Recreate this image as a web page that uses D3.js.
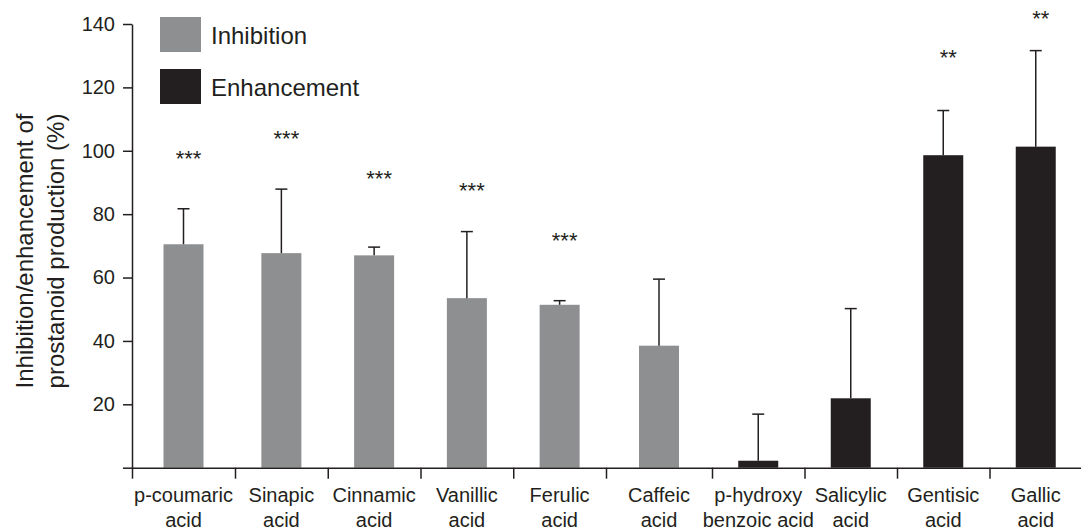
<!DOCTYPE html>
<html>
<head>
<meta charset="utf-8">
<script src="https://cdn.jsdelivr.net/npm/d3@7"></script>
<style>
  body { margin: 0; background: #fff; }
  text { font-family: "Liberation Sans", Arial, Helvetica, sans-serif; fill: #231f20; }
</style>
</head>
<body>
<div id="chart"></div>
<script>
// Data
const categories = [
  ["p-coumaric", "acid"], ["Sinapic", "acid"], ["Cinnamic", "acid"], ["Vanillic", "acid"],
  ["Ferulic", "acid"], ["Caffeic", "acid"], ["p-hydroxy", "benzoic acid"],
  ["Salicylic", "acid"], ["Gentisic", "acid"], ["Gallic", "acid"]
];
const effect = ["Inhibition", "Inhibition", "Inhibition", "Inhibition", "Inhibition", "Inhibition",
                "Enhancement", "Enhancement", "Enhancement", "Enhancement"];
const means = [70.5, 67.7, 67.0, 53.5, 51.4, 38.5, 2.2, 21.9, 98.6, 101.3];
const sds   = [11.2, 20.2, 2.6, 21.0, 1.3, 21.0, 14.7, 28.3, 14.1, 30.3];
const stars = ["***", "***", "***", "***", "***", "", "", "", "**", "**"];
const starLevel = [99, 105.3, 92.7, 88.9, 73.4, null, null, null, 131, 143.4];
const yTicks = [0, 20, 40, 60, 80, 100, 120, 140];
const legendItems = ["Inhibition", "Enhancement"];

// Global const
const W = 1081, H = 530;
const ink = "#231f20";
const color = d3.scaleOrdinal().domain(legendItems).range(["#8e8f91", "#231f20"]);

const svg = d3.select("#chart").append("svg")
  .attr("width", W).attr("height", H);

// y scale
const y = d3.scaleLinear().domain([0, 140]).range([467.7, 24]);

// slot scale: boundaries between categories (the original has a slightly wider slot mid-chart)
const slot = d3.scaleLinear().domain([0, 1, 5, 6, 10]).range([132, 235, 606, 712, 1082]);
const barW = 40;

// Bars
svg.selectAll("rect.bar")
  .data(means)
  .enter()
  .append("rect")
    .attr("class", "bar")
    .attr("x", (d, i) => slot(i + 0.5) - barW / 2)
    .attr("y", d => y(d))
    .attr("width", barW)
    .attr("height", d => y(0) - y(d))
    .style("fill", (d, i) => color(effect[i]));

// Error bars (upper only)
const err = svg.append("g").attr("stroke", ink).attr("stroke-width", 1.5);
means.forEach((m, i) => {
  const cx = slot(i + 0.5);
  err.append("line")
    .attr("x1", cx).attr("x2", cx)
    .attr("y1", y(m)).attr("y2", y(m + sds[i]));
  err.append("line")
    .attr("x1", cx - 6).attr("x2", cx + 6)
    .attr("y1", y(m + sds[i])).attr("y2", y(m + sds[i]));
});

// Significance stars
const starData = stars.map((s, i) => ({ s: s, i: i, v: starLevel[i] })).filter(d => d.s !== "");
svg.selectAll("text.star")
  .data(starData)
  .enter()
  .append("text")
    .attr("class", "star")
    .attr("x", d => slot(d.i + 0.5) + 5)
    .attr("y", d => y(d.v) + 12.5)
    .attr("text-anchor", "middle")
    .attr("font-size", "22px")
    .text(d => d.s);

// Y axis
const yAxis = svg.append("g")
  .attr("transform", "translate(132,0)")
  .call(d3.axisLeft(y).tickValues(yTicks).tickSize(9).tickSizeOuter(0).tickPadding(8)
          .tickFormat(d => d === 0 ? "" : d));
yAxis.selectAll("text").attr("font-size", "20px").style("font-family", null);
yAxis.selectAll("line, path").attr("stroke", ink).attr("stroke-width", 1.5);

// X axis (ticks at category boundaries)
const xAxis = svg.append("g")
  .attr("transform", "translate(0," + y(0) + ")")
  .call(d3.axisBottom(slot).tickValues(d3.range(0, 10)).tickSize(11).tickSizeOuter(0).tickFormat(""));
xAxis.selectAll("line, path").attr("stroke", ink).attr("stroke-width", 1.5);

// Category labels
const lab = svg.append("g").attr("font-size", "20px");
categories.forEach((c, i) => {
  const t = lab.append("text")
    .attr("text-anchor", "middle")
    .attr("x", slot(i + 0.5))
    .attr("y", 502);
  t.append("tspan").attr("x", slot(i + 0.5)).text(c[0]);
  t.append("tspan").attr("x", slot(i + 0.5)).attr("dy", 24.5).text(c[1]);
});

// Y axis title
const yt = svg.append("text")
  .attr("text-anchor", "middle")
  .attr("font-size", "24px")
  .attr("transform", "translate(33,251)rotate(-90)");
yt.append("tspan").attr("x", 0).attr("y", 0).text("Inhibition/enhancement of");
yt.append("tspan").attr("x", 0).attr("y", 31).text("prostanoid production (%)");

// Legend
const leg = svg.append("g");
legendItems.forEach((name, i) => {
  leg.append("rect")
    .attr("x", 160).attr("y", 17 + i * 52)
    .attr("width", 41).attr("height", 35)
    .style("fill", color(name));
  leg.append("text")
    .attr("x", 211).attr("y", 44 + i * 52)
    .attr("font-size", "24px")
    .text(name);
});
</script>
</body>
</html>
